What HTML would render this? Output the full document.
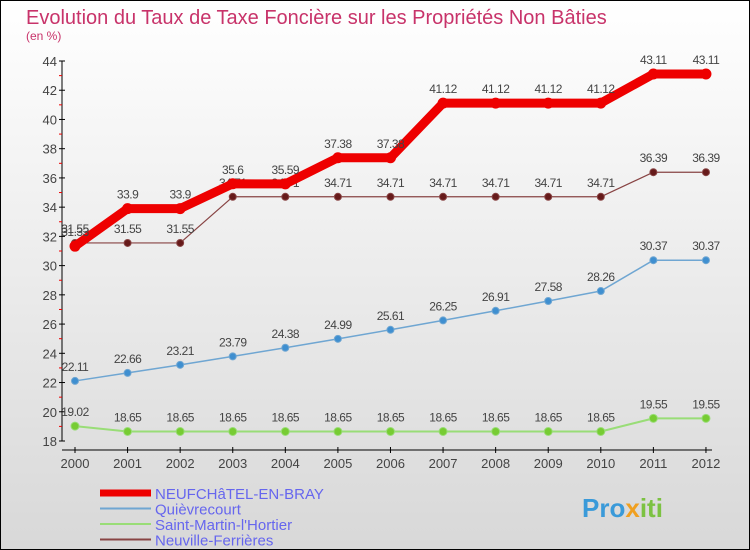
<!DOCTYPE html>
<html><head><meta charset="utf-8"><style>
body{margin:0}
svg{display:block;font-family:"Liberation Sans",sans-serif}
</style></head><body>
<svg width="750" height="550" xmlns="http://www.w3.org/2000/svg">
<defs><linearGradient id="bg" x1="0" y1="0" x2="0" y2="1"><stop offset="0" stop-color="#ffffff"/><stop offset="1" stop-color="#d8d8d8"/></linearGradient></defs>
<rect x="0.5" y="0.5" width="749" height="549" fill="url(#bg)" stroke="#000"/>
<text x="26" y="24" font-size="20" fill="#c8336a">Evolution du Taux de Taxe Foncière sur les Propriétés Non Bâties</text>
<text x="26" y="40" font-size="12" fill="#c8336a">(en %)</text>
<g id="axes"></g>
<g id="series"></g>
<g id="legend"></g>
<text x="582" y="517" font-size="26" font-weight="bold" fill="#3a9ad9">Pro<tspan fill="#f0a020">x</tspan><tspan fill="#7cc242">iti</tspan></text>
</svg>
<script>
const years=[2000,2001,2002,2003,2004,2005,2006,2007,2008,2009,2010,2011,2012];
const neuf=[31.33,33.9,33.9,35.6,35.59,37.38,37.38,41.12,41.12,41.12,41.12,43.11,43.11];
const quiev=[22.11,22.66,23.21,23.79,24.38,24.99,25.61,26.25,26.91,27.58,28.26,30.37,30.37];
const stm=[19.02,18.65,18.65,18.65,18.65,18.65,18.65,18.65,18.65,18.65,18.65,19.55,19.55];
const neuv=[31.55,31.55,31.55,34.71,34.71,34.71,34.71,34.71,34.71,34.71,34.71,36.39,36.39];
const yTicks=[18,20,22,24,26,28,30,32,34,36,38,40,42,44];
const NS="http://www.w3.org/2000/svg";
const xS=i=>75+i*52.58, yS=v=>441-(v-18)*(380/26);
function mk(tag,at,parent,txt){const e=document.createElementNS(NS,tag);for(const k in at)e.setAttribute(k,at[k]);if(txt!==undefined)e.textContent=txt;parent.appendChild(e);return e;}
const ax=document.getElementById('axes');
let e=mk('line',{x1:62,y1:yS(44),x2:62,y2:yS(18),stroke:'#000'},ax);


e=mk('line',{x1:62,y1:450,x2:712,y2:450,stroke:'#000'},ax);


yTicks.forEach(t=>{mk('line',{x1:59,y1:yS(t),x2:65,y2:yS(t),stroke:'#000'},ax);
 if(t<44)mk('line',{x1:59,y1:yS(t+1),x2:62,y2:yS(t+1),stroke:'#e00'},ax);
 e=mk('text',{x:57,y:yS(t)+5,'font-size':13,fill:'#444','text-anchor':'end'},ax,t);
 
 });
years.forEach((y,i)=>{mk('line',{x1:xS(i),y1:447,x2:xS(i),y2:453,stroke:'#000'},ax);
 e=mk('text',{x:xS(i),y:468,'font-size':13,fill:'#444','text-anchor':'middle'},ax,y);
 
 });
const sg=document.getElementById('series');
function series(vals,color,w,r,dot,name){
 const g=mk('g',{},sg);
 
 
 mk('polyline',{points:vals.map((v,i)=>xS(i)+','+yS(v)).join(' '),fill:'none',stroke:color,'stroke-width':w,'stroke-linejoin':'round'},g);
 vals.forEach((v,i)=>{e=mk('circle',{cx:xS(i),cy:yS(v),r:r,fill:dot,stroke:color,'stroke-width':1},g);
  
  
  e=mk('text',{x:xS(i),y:yS(v)-10,'font-size':12,fill:'#444','text-anchor':'middle','letter-spacing':'-0.5'},g,String(v));
  
  });
}
series(stm,'#99dd77',2,4,'#77cc33','series-saint-martin');
series(quiev,'#6fa6d2',1.5,3.5,'#3f8fd0','series-quievrecourt');
series(neuv,'#884444',1.2,3.5,'#661a1a','series-neuville');
series(neuf,'#ee0000',9,5,'#ee0000','series-neufchatel');
const lg=document.getElementById('legend');
const leg=[['NEUFCHâTEL-EN-BRAY','#ee0000',7],['Quièvrecourt','#6fa6d2',2],['Saint-Martin-l\'Hortier','#99dd77',2],['Neuville-Ferrières','#884444',2]];
leg.forEach((l,i)=>{const y=493+i*15.5;
 mk('line',{x1:100,y1:y,x2:151,y2:y,stroke:l[1],'stroke-width':l[2]},lg);
 e=mk('text',{x:155,y:y+6,'font-size':15,fill:'#6666ee'},lg,l[0]);
 
 });
</script>
</body></html>
